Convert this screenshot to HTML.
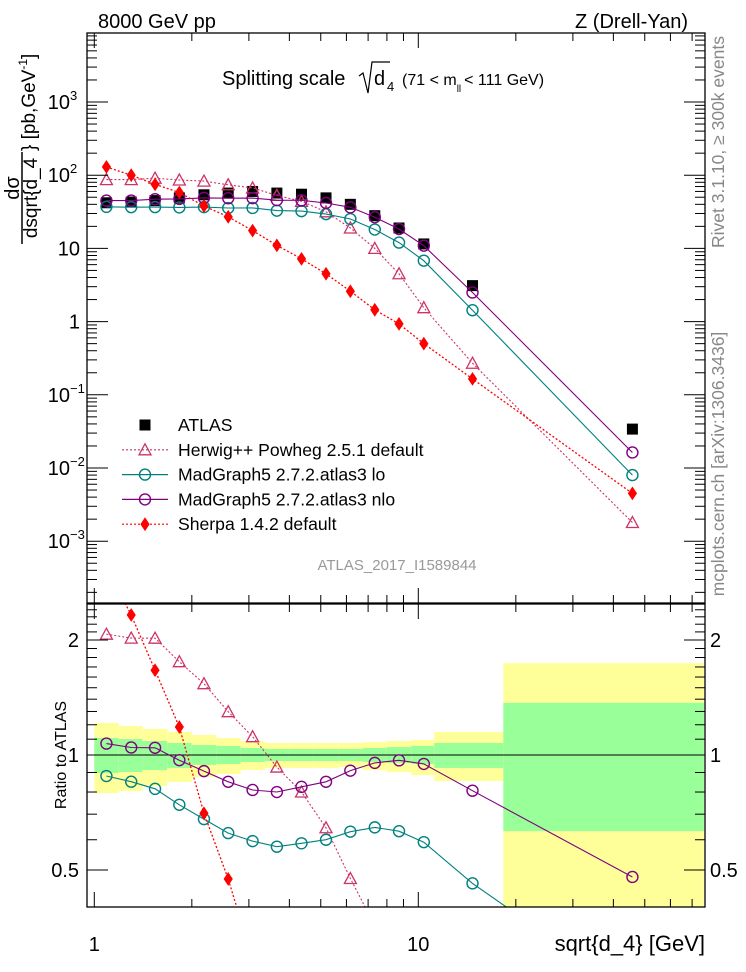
<!DOCTYPE html>
<html><head><meta charset="utf-8"><style>
html,body{margin:0;padding:0;background:#fff;overflow:hidden;width:746px;height:972px;}
svg{display:block;font-family:"Liberation Sans",sans-serif;}
</style></head><body>
<svg id="chart" width="746" height="972" viewBox="0 0 746 972" xmlns="http://www.w3.org/2000/svg">
<defs>
<clipPath id="clipMain"><rect x="87" y="33" width="618" height="570"/></clipPath>
<clipPath id="clipRatio"><rect x="87" y="604" width="618" height="303"/></clipPath>
</defs>
<g id="bands" clip-path="url(#clipRatio)"></g>
<g id="ratioLines" clip-path="url(#clipRatio)"></g>
<g id="mainLines" clip-path="url(#clipMain)"></g>
<g id="axes"></g>

<text x="98" y="28" font-size="20">8000 GeV pp</text>
<text x="688" y="28" font-size="20" text-anchor="end">Z (Drell-Yan)</text>
<g>
<text x="222" y="85" font-size="20">Splitting scale</text>
<path d="M359 76 L363 73 L368 93 L372 62 L390 62" fill="none" stroke="#000" stroke-width="1.2"/>
<text x="374" y="85" font-size="20">d</text>
<text x="387" y="91" font-size="13">4</text>
<text x="402" y="85" font-size="16">(71 &lt; m<tspan font-size="10" dy="7">ll</tspan><tspan dy="-7" dx="3">&lt; 111 GeV)</tspan></text>
</g>
<g transform="translate(22,198) rotate(-90)">
<text x="10" y="-3" font-size="20" text-anchor="middle">dσ</text>
<line x1="-46" y1="0" x2="46" y2="0" stroke="#000" stroke-width="1.5"/>
<text x="0" y="15" font-size="19" text-anchor="middle">dsqrt{d_4</text>
<text x="47" y="13" font-size="19">} [pb,GeV<tspan font-size="12" dy="-8">-1</tspan><tspan dy="8">]</tspan></text>
</g>
<text transform="translate(66,755) rotate(-90)" font-size="16" text-anchor="middle">Ratio to ATLAS</text>
<text transform="translate(724,142) rotate(-90)" font-size="17.5" fill="#888" text-anchor="middle">Rivet 3.1.10, ≥ 300k events</text>
<text transform="translate(724,464) rotate(-90)" font-size="17.5" fill="#888" text-anchor="middle">mcplots.cern.ch [arXiv:1306.3436]</text>
<text x="397" y="570" font-size="15" fill="#999" text-anchor="middle">ATLAS_2017_I1589844</text>
<text x="705" y="951" font-size="22" text-anchor="end">sqrt{d_4} [GeV]</text>
<g id="legend"></g>
</svg>
<script>
const xCenters = [1.09,1.30,1.54,1.83,2.18,2.59,3.08,3.66,4.36,5.19,6.17,7.34,8.72,10.4,14.7,45.8];
const binEdges = [1,1.19,1.41,1.68,2,2.38,2.83,3.36,4,4.76,5.66,6.73,8,9.51,11.2,18.3,76.1];
const atlas = [42,43,45,49,54,57,60,57,55,49,40,28,19,11.5,3.1,0.034];
const herwig = [87,87,91,86,83,74,67,53,44,31.6,19,10,4.5,1.55,0.27,0.0018];
const mgLo = [37,36.6,36.7,36.3,36.7,35.6,35.7,32.8,32.3,29.4,25.2,18.1,12,6.8,1.43,0.008];
const mgNlo = [45,45,47,47.5,49,48.5,48.6,45.6,45.4,41.7,36.4,26.7,18.4,10.9,2.5,0.0163];
const sherpa = [130,100,75,58,38,27,17.5,11,7.2,4.5,2.6,1.45,0.93,0.5,0.165,0.0045];
const bandOuterUp = [1.213,1.191,1.17,1.149,1.128,1.108,1.088,1.075,1.075,1.075,1.075,1.081,1.088,1.095,1.149,1.74];
const bandOuterDn = [0.795,0.805,0.83,0.85,0.876,0.892,0.913,0.925,0.925,0.925,0.93,0.913,0.902,0.886,0.855,0.30];
const bandInnerUp = [1.108,1.101,1.088,1.075,1.062,1.056,1.043,1.037,1.037,1.037,1.037,1.043,1.049,1.056,1.075,1.369];
const bandInnerDn = [0.897,0.902,0.913,0.925,0.942,0.947,0.959,0.964,0.964,0.964,0.964,0.959,0.953,0.947,0.925,0.632];
const mainYTicks = ["10^-3","10^-2","10^-1","1","10","10^2","10^3"];
const ratioYTicks = [0.5,1,2];

const NS="http://www.w3.org/2000/svg";
const L10=Math.log10;
function X(v){return 94.3+324*L10(v);}
function Ym(v){return 321.6-73.2*L10(v);}
function Yr(r){return 755-382*L10(r);}
function mk(tag,attrs,parent){const e=document.createElementNS(NS,tag);for(const k in attrs)e.setAttribute(k,attrs[k]);parent.appendChild(e);return e;}
const bands=document.getElementById('bands'),rl=document.getElementById('ratioLines'),ml=document.getElementById('mainLines'),ax=document.getElementById('axes'),lg=document.getElementById('legend');

for(let i=0;i<xCenters.length;i++){
  const x0=X(binEdges[i]),x1=X(binEdges[i+1]);
  const o=mk('rect',{x:x0,y:Yr(bandOuterUp[i]),width:x1-x0,height:Yr(bandOuterDn[i])-Yr(bandOuterUp[i]),fill:'#ffff99'},bands);
  
  
  const g=mk('rect',{x:x0,y:Yr(bandInnerUp[i]),width:x1-x0,height:Yr(bandInnerDn[i])-Yr(bandInnerUp[i]),fill:'#99ff99'},bands);
  
  
}
const one=mk('line',{x1:87,x2:705,y1:Yr(1),y2:Yr(1),stroke:'#000','stroke-width':1},rl);



function marker(type,x,y,color,parent){
  let e;
  if(type==='square'){e=mk('rect',{x:x-5.5,y:y-5.5,width:11,height:11,fill:'#000'},parent);}
  else if(type==='circle'){e=mk('circle',{cx:x,cy:y,r:5.5,fill:'none',stroke:color,'stroke-width':1.4},parent);}
  else if(type==='tri'){e=mk('path',{d:`M${x} ${y-6} L${x+6} ${y+5} L${x-6} ${y+5} Z`,fill:'none',stroke:color,'stroke-width':1.3},parent);}
  else {e=mk('path',{d:`M${x} ${y-6} L${x+4} ${y} L${x} ${y+6} L${x-4} ${y} Z`,fill:color,stroke:color,'stroke-width':1},parent);}
  return e;
}
const series=[
 {name:'herwig',vals:herwig,color:'#cc3366',type:'tri',dash:'2,2',w:1.1},
 {name:'mg-lo',vals:mgLo,color:'#008080',type:'circle',dash:'',w:1.1},
 {name:'mg-nlo',vals:mgNlo,color:'#800080',type:'circle',dash:'',w:1.1},
 {name:'sherpa',vals:sherpa,color:'#ff0000',type:'dia',dash:'2,2',w:1.3}
];
for(let i=0;i<atlas.length;i++){
  const m=marker('square',X(xCenters[i]),Ym(atlas[i]),'#000',ml);
  
  
}
series.forEach(s=>{
  const pm=s.vals.map((v,i)=>X(xCenters[i]).toFixed(1)+','+Ym(v).toFixed(1)).join(' ');
  const p=mk('polyline',{points:pm,fill:'none',stroke:s.color,'stroke-width':s.w,'stroke-dasharray':s.dash},ml);
  
  
  const pr=s.vals.map((v,i)=>X(xCenters[i]).toFixed(1)+','+Yr(v/atlas[i]).toFixed(1)).join(' ');
  const q=mk('polyline',{points:pr,fill:'none',stroke:s.color,'stroke-width':s.w,'stroke-dasharray':s.dash},rl);
  
  
  s.vals.forEach((v,i)=>{
    const a=marker(s.type,X(xCenters[i]),Ym(v),s.color,ml);
    
    
    const b=marker(s.type,X(xCenters[i]),Yr(v/atlas[i]),s.color,rl);
    
    
  });
});

const f1=mk('rect',{x:87,y:33,width:618,height:570,fill:'none',stroke:'#000','stroke-width':1.3},ax);


const f2=mk('rect',{x:87,y:604,width:618,height:303,fill:'none',stroke:'#000','stroke-width':1.3},ax);


function tick(x1,y1,x2,y2){const t=mk('line',{x1,y1,x2,y2,stroke:'#000','stroke-width':1},ax);
  
  }
for(let d=0;d<2;d++)for(let k=1;k<10;k++){
  const v=k*Math.pow(10,d);const x=X(v);if(x<87||x>705)continue;
  const len=k===1?15:8;
  tick(x,33,x,33+len);tick(x,603,x,603-len);tick(x,604,x,604+len);tick(x,907,x,907-len);
}
for(let d=-4;d<4;d++)for(let k=1;k<10;k++){
  const v=k*Math.pow(10,d);const y=Ym(v);if(y<33||y>603)continue;
  const len=k===1?21:10;
  tick(87,y,87+len,y);tick(705,y,705-len,y);
}
for(let r=0.4;r<2.56;r+=0.1){
  const rr=Math.round(r*10)/10;const y=Yr(rr);if(y<604||y>907)continue;
  const major=(rr===0.5||rr===1||rr===2);const len=major?21:10;
  tick(87,y,87+len,y);tick(705,y,705-len,y);
}
mainYTicks.forEach(t=>{
  let v; let base,exp=null;
  if(t.indexOf('^')>=0){base='10';exp=t.split('^')[1];v=Math.pow(10,+exp);}else{base=t;v=+t;}
  const y=Ym(v)+7;
  const e=mk('text',{x:exp?70:80,y:y,'font-size':20,'text-anchor':'end'},ax);
  e.textContent=base;
  
  
  if(exp){const s=mk('text',{x:70,y:y-9,'font-size':13},ax);s.textContent=exp.replace('-','−');
    
    }
});
ratioYTicks.forEach(r=>{
  const a=mk('text',{x:79,y:Yr(r)+7,'font-size':20,'text-anchor':'end'},ax);a.textContent=String(r);
  
  
  const b=mk('text',{x:710,y:Yr(r)+7,'font-size':20},ax);b.textContent=String(r);
  
  
});
[1,10].forEach(v=>{const e=mk('text',{x:X(v),y:951,'font-size':20,'text-anchor':'middle'},ax);e.textContent=String(v);
  
  });

const legItems=[['ATLAS','square','#000',''],['Herwig++ Powheg 2.5.1 default','tri','#cc3366','2,2'],['MadGraph5 2.7.2.atlas3 lo','circle','#008080',''],['MadGraph5 2.7.2.atlas3 nlo','circle','#800080',''],['Sherpa 1.4.2 default','dia','#ff0000','2,2']];
legItems.forEach((it,i)=>{
  const y=425+i*24.8;
  const g=mk('g',{},lg);
  
  
  if(i>0)mk('line',{x1:122,x2:168,y1:y,y2:y,stroke:it[2],'stroke-width':1.2,'stroke-dasharray':it[3]},g);
  marker(it[1],145,y,it[2],g);
  const t=mk('text',{x:178,y:y+6,'font-size':17.6},g);t.textContent=it[0];
});
</script>
</body></html>
